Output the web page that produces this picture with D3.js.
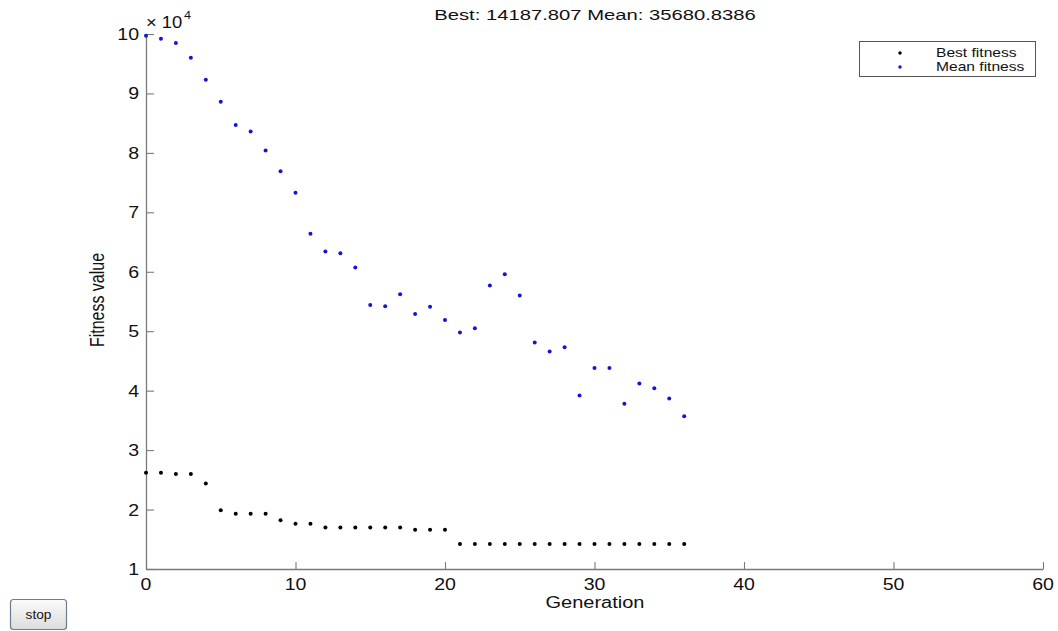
<!DOCTYPE html>
<html>
<head>
<meta charset="utf-8">
<script src="https://cdn.jsdelivr.net/npm/d3@7"></script>
<title>Fitness plot</title>
<style>
  body { margin: 0; background: #fff; }
  svg { font-family: "Liberation Sans", Arial, sans-serif; }
</style>
</head>
<body>
<script>
// values, fitness in units of 1e4
var generations = d3.range(0, 37);
var bestFitness = [2.62, 2.62, 2.60, 2.60, 2.44, 1.99, 1.93, 1.93, 1.93, 1.82,
  1.76, 1.76, 1.70, 1.70, 1.70, 1.70, 1.70, 1.70, 1.66, 1.66, 1.66,
  1.4188, 1.4188, 1.4188, 1.4188, 1.4188, 1.4188, 1.4188, 1.4188,
  1.4188, 1.4188, 1.4188, 1.4188, 1.4188, 1.4188, 1.4188, 1.4188];
var meanFitness = [9.97, 9.92, 9.85, 9.60, 9.23, 8.86, 8.47, 8.36, 8.04, 7.69,
  7.33, 6.64, 6.34, 6.31, 6.07, 5.44, 5.42, 5.62, 5.29, 5.41, 5.19,
  4.98, 5.05, 5.77, 5.96, 5.60, 4.81, 4.66, 4.73, 3.92, 4.38, 4.38,
  3.78, 4.12, 4.04, 3.87, 3.568];
var xTicks = [0, 10, 20, 30, 40, 50, 60];
var yTicks = [1, 2, 3, 4, 5, 6, 7, 8, 9, 10];
var titleText = "Best: 14187.807 Mean: 35680.8386";
var legendLabels = ["Best fitness", "Mean fitness"];

var width = 1058, height = 631;
var svg = d3.select("body").append("svg")
  .attr("width", width).attr("height", height);

var x = d3.scaleLinear().domain([0, 60]).range([146, 1043]);
var y = d3.scaleLinear().domain([1e4, 10e4]).range([569, 34]);

// text helper; the picture is stretched sideways so text gets a horizontal stretch
function label(px, py, txt, size, sx, anchor, rot) {
  var stretch = rot ? "scale(1," + sx + ")" : "scale(" + sx + ",1)";
  var g = svg.append("g")
    .attr("transform", "translate(" + px + "," + py + ")" + (rot ? " rotate(" + rot + ")" : "") + " " + stretch);
  return g.append("text")
    .attr("font-size", size)
    .attr("text-anchor", anchor)
    .attr("fill", "#111")
    .text(txt);
}

var axisColor = "#7a7a7a";

var xAxis = d3.axisBottom(x).tickValues(xTicks).tickSizeInner(-7).tickSizeOuter(0).tickFormat("");
var yAxis = d3.axisLeft(y).tickValues(yTicks.map(function(d) { return d * 1e4; }))
  .tickSizeInner(-8).tickSizeOuter(0).tickFormat("");

var gx = svg.append("g").attr("transform", "translate(0,569)").call(xAxis);
var gy = svg.append("g").attr("transform", "translate(146,0)").call(yAxis);
[gx, gy].forEach(function(g) {
  g.select(".domain").attr("stroke", axisColor).attr("stroke-width", 1.3);
  g.selectAll(".tick line").attr("stroke", axisColor).attr("stroke-width", 1.1);
});

xTicks.forEach(function(t) {
  label(x(t), 590, String(t), 17, 1.15, "middle");
});
yTicks.forEach(function(t) {
  label(139, y(t * 1e4) + 6, String(t), 17, 1.15, "end");
});

// exponent label
label(146, 28, "\u00d7 10", 16, 1.15, "start");
label(184, 19, "4", 11, 1.15, "start");

label(595, 20, titleText, 15, 1.35, "middle");
label(595, 608, "Generation", 16, 1.25, "middle");
label(104, 300, "Fitness value", 16, 1.3, "middle", -90);

// markers
svg.append("g").selectAll("circle")
  .data(generations)
  .enter().append("circle")
  .attr("cx", function(d) { return x(d); })
  .attr("cy", function(d, i) { return y(bestFitness[i] * 1e4); })
  .attr("r", 2)
  .attr("fill", "#000");

svg.append("g").selectAll("circle")
  .data(generations)
  .enter().append("circle")
  .attr("cx", function(d) { return x(d); })
  .attr("cy", function(d, i) { return y(meanFitness[i] * 1e4); })
  .attr("r", 2)
  .attr("fill", "#1414d2");

// legend
svg.append("rect")
  .attr("x", 859.5).attr("y", 41.5).attr("width", 176).attr("height", 35)
  .attr("fill", "#fff").attr("stroke", "#555").attr("stroke-width", 1);
var legendColors = ["#000", "#1414d2"];
legendLabels.forEach(function(l, i) {
  svg.append("circle").attr("cx", 900).attr("cy", 53 + i * 14).attr("r", 1.7).attr("fill", legendColors[i]);
  label(936, 57 + i * 14, l, 12, 1.3, "start");
});

// stop button
var defs = svg.append("defs");
var grad = defs.append("linearGradient").attr("id", "btn").attr("x1", 0).attr("y1", 0).attr("x2", 0).attr("y2", 1);
grad.append("stop").attr("offset", "0%").attr("stop-color", "#fbfbfb");
grad.append("stop").attr("offset", "100%").attr("stop-color", "#dcdcdc");
svg.append("rect")
  .attr("x", 10.5).attr("y", 599.5).attr("width", 56).attr("height", 30).attr("rx", 3)
  .attr("fill", "url(#btn)").attr("stroke", "#6d7d8d").attr("stroke-width", 1.2);
label(38.5, 619, "stop", 13, 1.05, "middle");
</script>
</body>
</html>
